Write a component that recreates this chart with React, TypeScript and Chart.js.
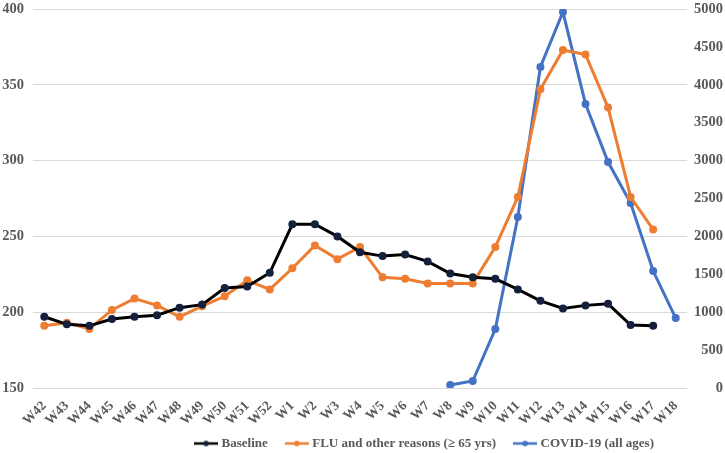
import React, { useEffect, useRef } from "react";
import { Chart, registerables } from "chart.js";
Chart.register(...registerables);

const weeks = [
  "W42", "W43", "W44", "W45", "W46", "W47", "W48", "W49", "W50", "W51", "W52",
  "W1", "W2", "W3", "W4", "W5", "W6", "W7", "W8", "W9", "W10", "W11", "W12",
  "W13", "W14", "W15", "W16", "W17", "W18",
];
const baseline = [
  197, 192, 191, 195.5, 197, 198, 203, 205, 216, 217, 226,
  258, 258, 250, 239.5, 237, 238, 233.5, 225.5, 223, 222, 215, 207.5,
  202.5, 204.5, 205.5, 191.5, 191, null,
];
const flu = [
  191, 193, 189, 201.5, 209, 204.5, 197, 204, 210.5, 221, 215,
  229, 244, 235, 243, 223, 222, 219, 219, 219, 243, 276, 347,
  373, 370, 335, 276, 254.5, null,
];
const covid = [
  null, null, null, null, null, null, null, null, null, null, null,
  null, null, null, null, null, null, null, 40, 92, 778, 2256, 4235,
  4960, 3747, 2981, 2440, 1543, 923,
];
const leftTicks = [150, 200, 250, 300, 350, 400];
const rightTicks = [0, 500, 1000, 1500, 2000, 2500, 3000, 3500, 4000, 4500, 5000];
const seriesNames = ["Baseline", "FLU and other reasons (\u2265 65 yrs)", "COVID-19 (all ages)"];

const BLACK = "#000000";
const NAVY = "#14213d";
const ORANGE = "#ED7D31";
const BLUE = "#4472C4";
const TXT = "#595959";
const FONT = "'Liberation Serif', 'Times New Roman', serif";

function markerImage(color: string, dot: string) {
  const c = document.createElement("canvas");
  c.width = 24;
  c.height = 10;
  const g = c.getContext("2d")!;
  g.strokeStyle = color;
  g.lineWidth = 2.5;
  g.beginPath();
  g.moveTo(0, 5);
  g.lineTo(24, 5);
  g.stroke();
  g.fillStyle = dot;
  g.beginPath();
  g.arc(12, 5, 2.8, 0, Math.PI * 2);
  g.fill();
  return c;
}

export default function App() {
  const ref = useRef<HTMLCanvasElement | null>(null);
  useEffect(() => {
    if (!ref.current) return;
    const markers = [
      markerImage(BLACK, NAVY),
      markerImage(ORANGE, ORANGE),
      markerImage(BLUE, BLUE),
    ];
    const chart = new Chart(ref.current, {
      type: "line",
      data: {
        labels: weeks,
        datasets: [
          {
            label: seriesNames[0],
            data: baseline,
            borderColor: BLACK,
            backgroundColor: NAVY,
            pointBackgroundColor: NAVY,
            pointBorderColor: NAVY,
            borderWidth: 3,
            pointRadius: 2.5,
            yAxisID: "y",
          },
          {
            label: seriesNames[1],
            data: flu,
            borderColor: ORANGE,
            backgroundColor: ORANGE,
            pointBackgroundColor: ORANGE,
            pointBorderColor: ORANGE,
            borderWidth: 3,
            pointRadius: 2.5,
            yAxisID: "y",
          },
          {
            label: seriesNames[2],
            data: covid,
            borderColor: BLUE,
            backgroundColor: BLUE,
            pointBackgroundColor: BLUE,
            pointBorderColor: BLUE,
            borderWidth: 3,
            pointRadius: 2.5,
            yAxisID: "y1",
          },
        ],
      },
      options: {
        responsive: false,
        animation: false,
        layout: { padding: { top: 9, right: 2, left: 0, bottom: 0 } },
        scales: {
          x: {
            offset: true,
            grid: { display: false },
            border: { display: false },
            ticks: {
              color: TXT,
              font: { family: FONT, size: 13.5, weight: "bold" },
              minRotation: 45,
              maxRotation: 45,
              autoSkip: false,
              padding: 2,
            },
            afterFit: (s: any) => {
              s.height = 35;
            },
          },
          y: {
            position: "left",
            min: 150,
            max: 400,
            afterBuildTicks: (s: any) => {
              s.ticks = leftTicks.map((v) => ({ value: v }));
            },
            grid: { color: "#d9d9d9", drawTicks: false, lineWidth: 1 },
            border: { display: false },
            ticks: {
              color: TXT,
              font: { family: FONT, size: 14.5, weight: "bold" },
              padding: 9,
              callback: (v: any) => String(v),
            },
            afterFit: (s: any) => {
              s.width = 33;
              s.paddingTop = 0;
            },
          },
          y1: {
            position: "right",
            min: 0,
            max: 5000,
            afterBuildTicks: (s: any) => {
              s.ticks = rightTicks.map((v) => ({ value: v }));
            },
            grid: { display: false, drawTicks: false },
            border: { display: false },
            ticks: {
              color: TXT,
              font: { family: FONT, size: 14.5, weight: "bold" },
              crossAlign: "far",
              callback: (v: any) => String(v),
            },
            afterFit: (s: any) => {
              s.width = 36;
              s.paddingTop = 0;
            },
          },
        },
        plugins: {
          tooltip: { enabled: false },
          legend: {
            position: "bottom",
            maxHeight: 30,
            labels: {
              color: TXT,
              font: { family: FONT, size: 13, weight: "bold" },
              usePointStyle: true,
              pointStyleWidth: 18,
              boxHeight: 10,
              padding: 20,
              generateLabels: (c: any) => {
                const items = Chart.defaults.plugins.legend.labels.generateLabels(c);
                return items.map((it: any, i: number) => ({ ...it, pointStyle: markers[i] }));
              },
            },
          },
        },
      },
      plugins: [
        {
          id: "legendShift",
          afterLayout: (c: any) => {
            const lg = c.legend;
            if (!lg) return;
            lg.left += 64;
            lg.right += 64;
            lg.top -= 6;
            lg.bottom = 453;
          },
        },
      ],
    } as any);
    return () => chart.destroy();
  }, []);
  return (
    <div style={{ position: "absolute", left: 0, top: 0, width: 725, height: 453, background: "#fff" }}>
      <canvas ref={ref} width={725} height={453} />
    </div>
  );
}
